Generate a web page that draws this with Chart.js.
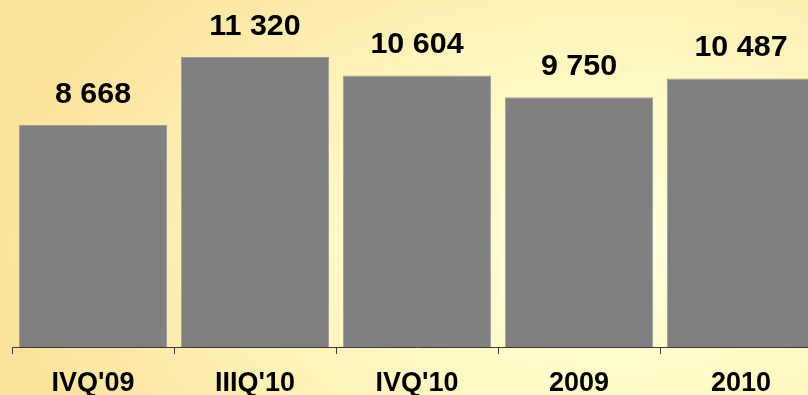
<!DOCTYPE html>
<html>
<head>
<meta charset="utf-8">
<script src="https://cdn.jsdelivr.net/npm/chart.js@4.4.1/dist/chart.umd.min.js"></script>
<style>
    html, body {
        margin: 0;
        padding: 0;
        width: 808px;
        height: 395px;
        overflow: hidden;
        background: radial-gradient(ellipse 78% 100% at 76% 62%, #ffffde 0%, #fffbc8 35%, #fdefb2 68%, #fce29a 100%);
    }
    #wrap {
        position: absolute;
        left: 0;
        top: 0;
        width: 822px;
        height: 395px;
    }
</style>
</head>
<body>
<div id="wrap"><canvas id="salesChart"></canvas></div>
<script>
// values
const categories = ["IVQ'09", "IIIQ'10", "IVQ'10", "2009", "2010"];
const values = [8668, 11320, 10604, 9750, 10487];

// "8 668" style numbers
function formatValue(v) {
    return String(v).replace(/\B(?=(\d{3})+(?!\d))/g, ' ');
}

// draws the numbers above the bars
const valueLabels = {
    id: 'valueLabels',
    afterDatasetsDraw: function(chart) {
        const ctx = chart.ctx;
        const meta = chart.getDatasetMeta(0);
        ctx.save();
        ctx.fillStyle = '#000000';
        ctx.font = 'bold 29px "Liberation Sans", Arial, sans-serif';
        ctx.textAlign = 'center';
        ctx.textBaseline = 'alphabetic';
        meta.data.forEach(function(bar, i) {
            ctx.save();
            ctx.translate(bar.x, bar.y - 22);
            ctx.scale(1.05, 1);
            ctx.fillText(formatValue(values[i]), 0, 0);
            ctx.restore();
        });
        ctx.restore();
    }
};

const ctx = document.getElementById('salesChart').getContext('2d');
const salesChart = new Chart(ctx, {
    type: 'bar',
    data: {
        labels: categories,
        datasets: [{
            data: values,
            backgroundColor: '#808080',
            borderColor: '#9c9c9c',
            borderWidth: 1,
            categoryPercentage: 1.0,
            barPercentage: 0.915
        }]
    },
    options: {
        responsive: true,
        maintainAspectRatio: false,
        animation: false,
        layout: {
            padding: { left: 12, right: 0, top: 0, bottom: 0 }
        },
        plugins: {
            legend: { display: false },
            tooltip: { enabled: false }
        },
        scales: {
            y: {
                display: false,
                min: 0,
                max: 13550
            },
            x: {
                afterFit: function(scale) {
                    scale.height = 48;
                },
                border: {
                    display: true,
                    color: '#3a3a3a',
                    width: 1
                },
                grid: {
                    offset: true,
                    drawOnChartArea: false,
                    drawTicks: true,
                    tickLength: 7,
                    color: '#3a3a3a'
                },
                ticks: {
                    color: '#000000',
                    padding: 16,
                    maxRotation: 0,
                    font: {
                        family: '"Liberation Sans", Arial, sans-serif',
                        size: 27,
                        weight: 'bold',
                        lineHeight: 1
                    }
                }
            }
        }
    },
    plugins: [valueLabels]
});
</script>
</body>
</html>
